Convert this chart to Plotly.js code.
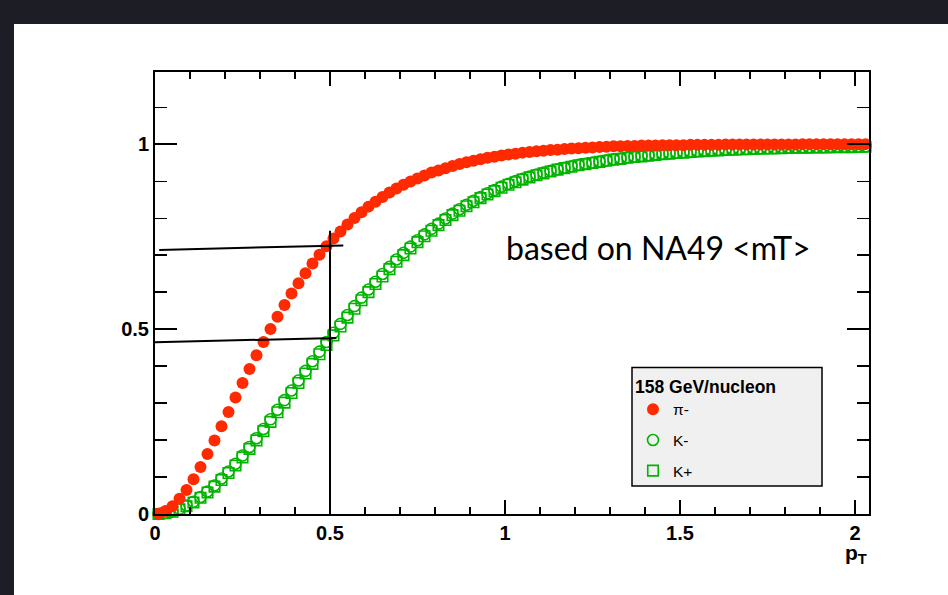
<!DOCTYPE html>
<html>
<head>
<meta charset="utf-8">
<script src="https://cdn.plot.ly/plotly-3.0.1.min.js"></script>
<style>
  html, body { margin: 0; padding: 0; background: #1d1d25; }
  #chart { width: 948px; height: 595px; }
</style>
</head>
<body>
<div id="chart"></div>
<script>
// ---- data ----
const pT = [0.01,0.03,0.05,0.07,0.09,0.11,0.13,0.15,0.17,0.19,
  0.21,0.23,0.25,0.27,0.29,0.31,0.33,0.35,0.37,0.39,
  0.41,0.43,0.45,0.47,0.49,0.51,0.53,0.55,0.57,0.59,
  0.61,0.63,0.65,0.67,0.69,0.71,0.73,0.75,0.77,0.79,
  0.81,0.83,0.85,0.87,0.89,0.91,0.93,0.95,0.97,0.99,
  1.01,1.03,1.05,1.07,1.09,1.11,1.13,1.15,1.17,1.19,
  1.21,1.23,1.25,1.27,1.29,1.31,1.33,1.35,1.37,1.39,
  1.41,1.43,1.45,1.47,1.49,1.51,1.53,1.55,1.57,1.59,
  1.61,1.63,1.65,1.67,1.69,1.71,1.73,1.75,1.77,1.79,
  1.81,1.83,1.85,1.87,1.89,1.91,1.93,1.95,1.97,1.99,
  2.01,2.03];

const piMinus = [0.001,0.008,0.021,0.041,0.065,0.094,0.127,0.162,0.199,0.237,
  0.276,0.315,0.354,0.392,0.429,0.465,0.500,0.533,0.565,0.596,
  0.624,0.651,0.677,0.701,0.724,0.745,0.764,0.783,0.800,0.816,
  0.831,0.844,0.857,0.869,0.880,0.890,0.899,0.907,0.915,0.923,
  0.929,0.935,0.941,0.946,0.951,0.955,0.959,0.963,0.966,0.969,
  0.972,0.974,0.977,0.979,0.981,0.982,0.984,0.985,0.987,0.988,
  0.989,0.990,0.991,0.992,0.993,0.994,0.994,0.995,0.995,0.996,
  0.996,0.996,0.997,0.997,0.997,0.997,0.998,0.998,0.998,0.998,
  0.998,0.999,0.999,0.999,0.999,0.999,0.999,0.999,0.999,0.999,
  0.999,0.999,1.000,1.000,1.000,1.000,1.000,1.000,1.000,1.000,
  1.000,1.000];

const kMinus = [0.000,0.003,0.007,0.014,0.023,0.033,0.046,0.061,0.077,0.096,
  0.115,0.136,0.158,0.181,0.205,0.230,0.256,0.282,0.308,0.334,
  0.361,0.387,0.413,0.439,0.465,0.490,0.514,0.538,0.562,0.585,
  0.607,0.628,0.649,0.668,0.688,0.706,0.723,0.740,0.756,0.771,
  0.785,0.799,0.812,0.824,0.836,0.847,0.857,0.867,0.876,0.885,
  0.893,0.900,0.906,0.912,0.918,0.923,0.928,0.932,0.936,0.940,
  0.944,0.947,0.950,0.953,0.956,0.959,0.961,0.964,0.966,0.968,
  0.970,0.972,0.974,0.975,0.977,0.978,0.979,0.981,0.982,0.983,
  0.984,0.985,0.986,0.986,0.987,0.988,0.988,0.989,0.989,0.990,
  0.990,0.991,0.991,0.991,0.992,0.992,0.992,0.993,0.993,0.993,
  0.993,0.994];

const kPlus = [0.000,0.002,0.006,0.013,0.021,0.031,0.044,0.058,0.074,0.092,
  0.111,0.131,0.153,0.176,0.199,0.224,0.249,0.275,0.301,0.327,
  0.354,0.380,0.406,0.432,0.457,0.483,0.507,0.531,0.555,0.578,
  0.600,0.622,0.642,0.662,0.682,0.700,0.718,0.735,0.751,0.766,
  0.781,0.795,0.808,0.820,0.832,0.843,0.854,0.864,0.873,0.882,
  0.890,0.897,0.904,0.910,0.916,0.921,0.926,0.931,0.935,0.939,
  0.943,0.946,0.949,0.952,0.955,0.958,0.960,0.963,0.965,0.967,
  0.969,0.971,0.973,0.974,0.976,0.977,0.979,0.980,0.981,0.982,
  0.983,0.984,0.985,0.986,0.986,0.987,0.988,0.988,0.989,0.989,
  0.990,0.990,0.990,0.991,0.991,0.991,0.992,0.992,0.992,0.992,
  0.993,0.993];

const xTickVals = [0, 0.5, 1, 1.5, 2];
const xTickText = ["0", "0.5", "1", "1.5", "2"];
const yTickVals = [0, 0.5, 1];
const yTickText = ["0", "0.5", "1"];
const seriesNames = ["π-", "K-", "K+"];
const legendTitle = "158 GeV/nucleon";
const noteText = "based on NA49 &lt;mT&gt;";
// -------------------------------------

const RED = "#ff2a00";
const GREEN = "#00b400";

const traces = [
  { x: pT, y: kMinus, name: seriesNames[1], type: "scatter", mode: "markers",
    legendgroup: "b", legendrank: 2, cliponaxis: false,
    marker: { symbol: "circle-open", size: 11, color: GREEN, line: { width: 1.6, color: GREEN } } },
  { x: pT, y: kPlus, name: seriesNames[2], type: "scatter", mode: "markers",
    legendgroup: "c", legendrank: 3, cliponaxis: false,
    marker: { symbol: "square-open", size: 10.5, color: GREEN, line: { width: 1.6, color: GREEN } } },
  { x: pT, y: piMinus, name: seriesNames[0], type: "scatter", mode: "markers",
    legendgroup: "a", legendrank: 1, cliponaxis: false,
    marker: { symbol: "circle", size: 12, color: RED, line: { width: 0 } } }
];

const axisFont = { family: "Liberation Sans, Arial, sans-serif", size: 20, color: "#000", weight: "bold" };

// plot area pixel geometry (for paper-referenced decoration)
const L = 155, T = 72, W = 714, H = 442;
const px = v => (v - L) / W;
const py = v => (T + H - v) / H;

const layout = {
  width: 948, height: 595,
  margin: { l: L, r: 948 - L - W, t: T, b: 595 - T - H },
  paper_bgcolor: "#1d1d25",
  plot_bgcolor: "#ffffff",
  showlegend: true,
  hovermode: false,
  xaxis: {
    range: [0, 2.04], showgrid: false, zeroline: false,
    showline: true, linecolor: "#000", linewidth: 2, mirror: "ticks",
    ticks: "inside", ticklen: 14, tickwidth: 1.5, tickcolor: "#000",
    tickvals: xTickVals, ticktext: xTickText, tickfont: axisFont,
    minor: { dtick: 0.1, ticks: "inside", ticklen: 7, tickwidth: 1.2, tickcolor: "#000", showgrid: false }
  },
  yaxis: {
    range: [0, 1.195], showgrid: false, zeroline: false,
    showline: true, linecolor: "#000", linewidth: 2, mirror: "ticks",
    ticks: "inside", ticklen: 22, tickwidth: 1.5, tickcolor: "#000",
    tickvals: yTickVals, ticktext: yTickText, tickfont: axisFont,
    minor: { dtick: 0.1, ticks: "inside", ticklen: 12, tickwidth: 1.2, tickcolor: "#000", showgrid: false }
  },
  legend: {
    x: px(633), y: py(370), xanchor: "left", yanchor: "top",
    bgcolor: "rgba(0,0,0,0)", borderwidth: 0,
    tracegroupgap: 7.5, traceorder: "grouped",
    title: { text: "<b>" + legendTitle + "</b>", font: { family: "Liberation Sans, Arial, sans-serif", size: 17.5, color: "#000" } },
    font: { family: "Liberation Sans, Arial, sans-serif", size: 15.5, color: "#000" }
  },
  shapes: [
    // white slide panel
    { type: "rect", xref: "paper", yref: "paper", layer: "below",
      x0: px(14), x1: px(960), y0: py(600), y1: py(24),
      fillcolor: "#ffffff", line: { width: 0 } },
    // legend box
    { type: "rect", xref: "paper", yref: "paper", layer: "below",
      x0: px(632), x1: px(822), y0: py(486), y1: py(367.5),
      fillcolor: "#f0f0f0", line: { color: "#000", width: 1.5 } },
    // hand drawn guide lines
    { type: "line", xref: "x", yref: "y", x0: 0.5, x1: 0.5, y0: 0, y1: 0.766, line: { color: "#000", width: 2 } },
    { type: "line", xref: "x", yref: "y", x0: 0.012, x1: 0.538, y0: 0.714, y1: 0.726, line: { color: "#000", width: 2 } },
    { type: "line", xref: "x", yref: "y", x0: -0.009, x1: 0.518, y0: 0.464, y1: 0.476, line: { color: "#000", width: 2 } }
  ],
  annotations: [
    { xref: "paper", yref: "paper", x: px(504), y: py(247), xanchor: "left", yanchor: "middle",
      text: noteText, showarrow: false,
      font: { family: "Lato, Open Sans, sans-serif", size: 32, color: "#000" } },
    { xref: "paper", yref: "paper", x: px(869), y: py(554), xanchor: "right", yanchor: "middle",
      text: "<b>p<sub>T</sub></b>", showarrow: false,
      font: { family: "Liberation Sans, Arial, sans-serif", size: 21, color: "#000" } }
  ]
};

Plotly.newPlot("chart", traces, layout, { displayModeBar: false, staticPlot: true });
</script>
</body>
</html>
